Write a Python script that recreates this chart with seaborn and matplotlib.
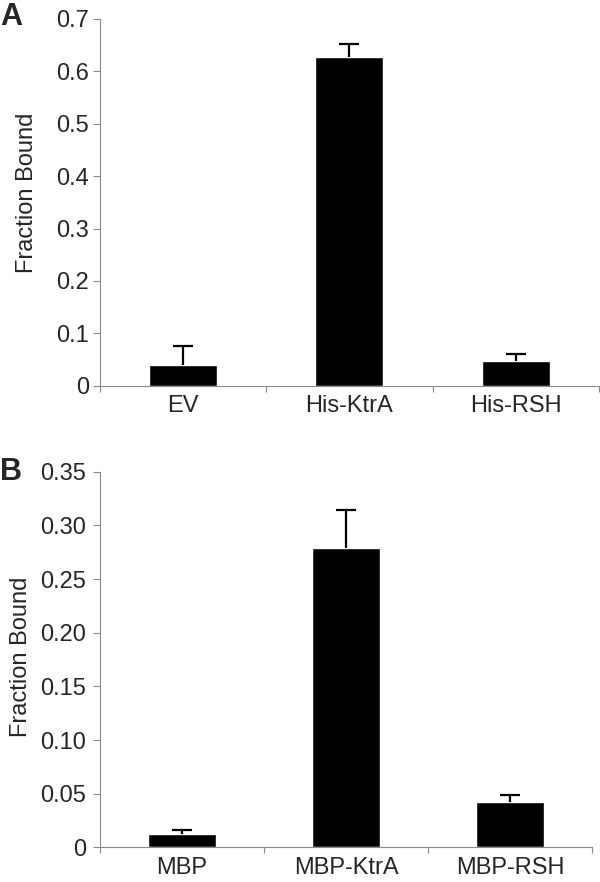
import numpy as np
import pandas as pd
import matplotlib
matplotlib.use('Agg')
import matplotlib.pyplot as plt
import seaborn as sns

# datos
a_labels = ['EV', 'His-KtrA', 'His-RSH']
a_values = [0.040, 0.628, 0.047]
a_err = [0.035, 0.025, 0.013]

b_labels = ['MBP', 'MBP-KtrA', 'MBP-RSH']
b_values = [0.0127, 0.279, 0.042]
b_err = [0.0035, 0.035, 0.0065]

a_yticks = [0, 0.1, 0.2, 0.3, 0.4, 0.5, 0.6, 0.7]
a_yticklabels = ['0', '0.1', '0.2', '0.3', '0.4', '0.5', '0.6', '0.7']
b_yticks = [0, 0.05, 0.10, 0.15, 0.20, 0.25, 0.30, 0.35]
b_yticklabels = ['0', '0.05', '0.10', '0.15', '0.20', '0.25', '0.30', '0.35']

sns.set_style('white')
plt.rcParams['font.family'] = ['Liberation Sans', 'DejaVu Sans']

fig = plt.figure(figsize=(6, 8.82), dpi=100)
ax_a = fig.add_axes([0.1667, 0.5627, 0.8313, 0.4158])
ax_b = fig.add_axes([0.1667, 0.0393, 0.82, 0.4259])

grey = '#8a8a8a'


def panel(ax, labels, values, err, yticks, yticklabels, ymax, lab_x, lab_y, ypad):
    df = pd.DataFrame({'cat': labels, 'val': values})
    sns.barplot(data=df, x='cat', y='val', color='black', saturation=1,
                width=0.41, errorbar=None, ax=ax)
    eb = ax.errorbar(np.arange(len(values)), values,
                     yerr=[np.zeros(len(err)), err], fmt='none',
                     ecolor='black', elinewidth=1.6, capsize=7, capthick=1.6)
    # solo la barra de error superior, sin tapa abajo
    eb[1][0].set_visible(False)
    ax.set_xlim(-0.5, len(labels) - 0.5)
    ax.set_ylim(0, ymax)
    ax.set_yticks(yticks)
    ax.set_yticklabels(yticklabels)
    ax.set_xticks(range(len(labels)))
    ax.set_xticklabels(labels)
    ax.set_xticks(np.arange(len(labels) + 1) - 0.5, minor=True)
    ax.tick_params(axis='x', which='major', length=0, pad=7, labelsize=17)
    ax.tick_params(axis='x', which='minor', length=4, width=0.8, color=grey,
                   direction='out', bottom=True)
    ax.tick_params(axis='y', length=5, width=0.8, color=grey, direction='out',
                   left=True, pad=ypad, labelsize=17)
    for s in ['top', 'right']:
        ax.spines[s].set_visible(False)
    for s in ['left', 'bottom']:
        ax.spines[s].set_color(grey)
        ax.spines[s].set_linewidth(0.8)
    ax.set_xlabel('')
    ax.set_ylabel('Fraction Bound', fontsize=17)
    ax.yaxis.set_label_coords(lab_x, lab_y)


panel(ax_a, a_labels, a_values, a_err, a_yticks, a_yticklabels, 0.7,
      -0.124, 0.525, 3)
panel(ax_b, b_labels, b_values, b_err, b_yticks, b_yticklabels, 0.35,
      -0.138, 0.507, 5)

fig.text(0.0, 1 - 25 / 882, 'A', fontsize=22, fontweight='bold', va='baseline')
fig.text(0.0, 1 - 480 / 882, 'B', fontsize=22, fontweight='bold', va='baseline')

fig.savefig('out.png', dpi=100)
